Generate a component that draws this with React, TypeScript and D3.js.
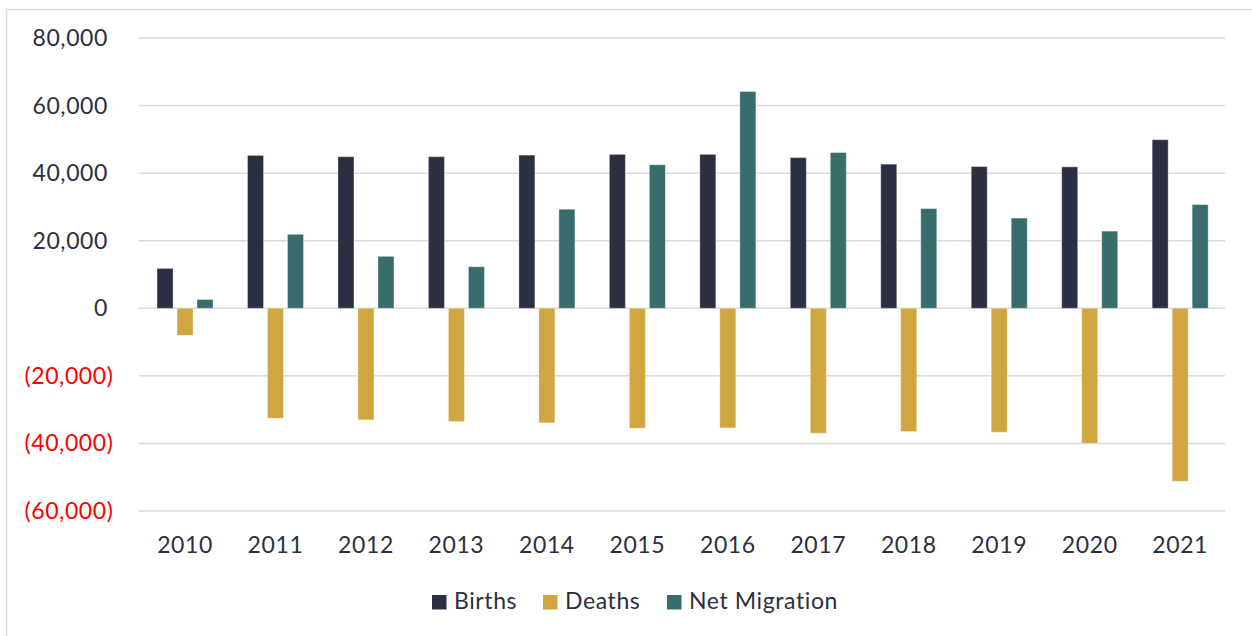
import React from "react";
import * as d3 from "d3";

const years = ["2010", "2011", "2012", "2013", "2014", "2015", "2016", "2017", "2018", "2019", "2020", "2021"];
const births = [11800, 45250, 44870, 44870, 45340, 45550, 45550, 44600, 42660, 41950, 41860, 49900];
const deaths = [-8000, -32540, -33020, -33520, -33900, -35500, -35400, -36980, -36480, -36690, -39940, -51200];
const netMigration = [2600, 21900, 15370, 12300, 29320, 42490, 64170, 46100, 29500, 26700, 22840, 30700];

const seriesNames = ["Births", "Deaths", "Net Migration"];
const seriesColors = ["#2b2f3f", "#cfa640", "#386d6b"];
const yTicks = [80000, 60000, 40000, 20000, 0, -20000, -40000, -60000];

const W = 1252;
const H = 636;
const font = "Lato, 'Open Sans', sans-serif";
const fs = 23;
const ls = 0.6;

export default function App() {
  const x = d3.scaleBand<string>().domain(years).range([139.8, 1225.4]);
  const y = d3.scaleLinear().domain([-60000, 80000]).range([511, 38]);
  const inner = d3.scaleBand<string>().domain(seriesNames).range([0, 56]).paddingInner(0.2);
  const all = [births, deaths, netMigration];
  const fmt = d3.format(",");

  const legendX = [432, 543, 667];

  return (
    <svg width={W} height={H} style={{ position: "fixed", left: 0, top: 0, background: "#fff" }}>
      <rect x={6.5} y={9.5} width={1400} height={800} fill="none" stroke="#d9dce6" strokeWidth={1.5} />
      {yTicks.map((t) => (
        <g key={t}>
          <line x1={139} x2={1225} y1={y(t)} y2={y(t)} stroke="#d9dae2" strokeWidth={1.5} />
          <text
            x={t < 0 ? 113.5 : 108}
            y={y(t)}
            dy="0.35em"
            textAnchor="end"
            fontFamily={font}
            fontSize={fs}
            letterSpacing={ls}
            fill={t < 0 ? "#ff0000" : "#2b2f3f"}
          >
            {t < 0 ? `(${fmt(-t)})` : fmt(t)}
          </text>
        </g>
      ))}
      {years.map((yr, i) => {
        const gx = x(yr)! + x.bandwidth() / 2 - 28;
        return (
          <g key={yr}>
            {all.map((vals, s) => {
              const v = vals[i];
              const bx = gx + inner(seriesNames[s])!;
              return (
                <rect
                  key={s}
                  x={bx}
                  y={Math.min(y(v), y(0))}
                  width={inner.bandwidth()}
                  height={Math.abs(y(v) - y(0))}
                  fill={seriesColors[s]}
                  stroke="#ffffff"
                  strokeOpacity={0.35}
                  strokeWidth={1}
                />
              );
            })}
            <text
              x={x(yr)! + x.bandwidth() / 2}
              y={553}
              textAnchor="middle"
              fontFamily={font}
              fontSize={fs}
              letterSpacing={ls}
              fill="#2b2f3f"
            >
              {yr}
            </text>
          </g>
        );
      })}
      {seriesNames.map((n, i) => (
        <g key={n} transform={`translate(${legendX[i]},0)`}>
          <rect x={0} y={595} width={14.5} height={14.5} fill={seriesColors[i]} />
          <text x={22} y={609} fontFamily={font} fontSize={fs} letterSpacing={ls} fill="#2b2f3f">
            {n}
          </text>
        </g>
      ))}
    </svg>
  );
}
